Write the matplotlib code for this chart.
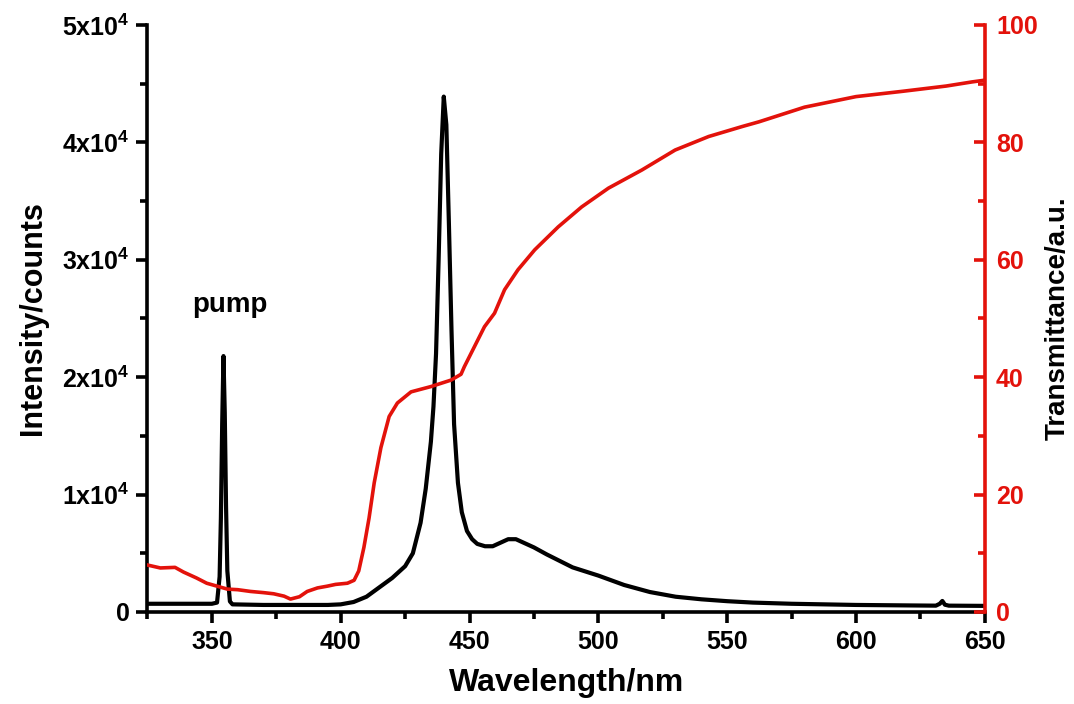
import matplotlib.pyplot as plt
import numpy as np
from matplotlib.ticker import MultipleLocator, FixedLocator

plt.rcParams['font.family'] = ['Liberation Sans', 'DejaVu Sans']
plt.rcParams['font.weight'] = 'bold'
plt.rcParams['mathtext.fontset'] = 'custom'
plt.rcParams['mathtext.rm'] = 'Liberation Sans:bold'
plt.rcParams['mathtext.bf'] = 'Liberation Sans:bold'

# emission spectrum (counts)
wl_int = [325, 340, 350, 352.0, 353.0, 353.5, 354.0, 354.5, 355.0, 355.5, 356.0, 357.0, 358,
          370, 385, 395, 400, 405, 410, 415, 420, 425, 428, 431, 433, 435, 436, 437, 438,
          439, 440, 441, 442, 443, 444, 445.5, 447, 449, 451, 453, 456, 459,
          462, 465, 468, 471, 475, 480, 490, 500, 510, 520, 530, 540, 550, 560, 575,
          590, 600, 620, 631, 632.5, 633.5, 634.5, 636, 650]
intensity = [700, 700, 700, 800, 3000, 8000, 16000, 21800, 17000, 9000, 3500, 900, 650,
             600, 600, 600, 650, 850, 1300, 2100, 2900, 3900, 5000, 7600, 10500, 14500,
             17500, 22000, 30000, 39000, 43900, 41500, 33000, 24000, 16000, 11000, 8500,
             6900, 6200, 5800, 5600, 5600, 5900, 6200, 6200, 5900, 5500, 4900, 3800, 3100,
             2300, 1700, 1300, 1080, 920, 800, 700, 640, 600, 560, 540, 700, 940, 620, 540,
             520]

# transmittance (a.u.)
wl_tr = [325, 330, 335.7, 339, 344, 348, 352, 356, 360, 365, 370, 374, 378, 380.5, 384,
         387, 391, 394.8, 398, 402.6, 405.2, 407, 409, 411, 413, 415.6, 418.8, 422,
         427.3, 435, 442.8, 446.7, 448, 451.9, 455.8, 459.7, 463.6, 468.8, 475.3, 484.4,
         493.5, 503.9, 516.9, 529.8, 542.8, 555.8, 562.3, 580, 600, 618, 635, 645, 650]
transmittance = [8.0, 7.5, 7.6, 6.8, 5.8, 4.9, 4.4, 3.9, 3.8, 3.5, 3.3, 3.1, 2.7, 2.2, 2.6,
                 3.5, 4.1, 4.4, 4.7, 4.9, 5.4, 7.0, 11.0, 16.0, 22.0, 28.0, 33.3, 35.6,
                 37.5, 38.4, 39.5, 40.5, 41.8, 45.2, 48.6, 50.9, 54.9, 58.3, 61.7, 65.6,
                 69.0, 72.2, 75.3, 78.7, 81.0, 82.7, 83.5, 86.0, 87.8, 88.7, 89.6, 90.3, 90.6]

red = '#e3120b'

fig = plt.figure(figsize=(10.74, 7.04), dpi=100)
ax = fig.add_axes([0.1373, 0.1307, 0.7797, 0.8338])
ax2 = ax.twinx()

ax.plot(wl_int, intensity, color='black', lw=3.0, zorder=3)
ax2.plot(wl_tr, transmittance, color=red, lw=2.6)

ax.set_xlim(325, 650)
ax.set_ylim(0, 50000)
ax2.set_ylim(0, 100)

ax.xaxis.set_major_locator(MultipleLocator(50))
ax.xaxis.set_minor_locator(MultipleLocator(25))
ax.yaxis.set_major_locator(FixedLocator([0, 10000, 20000, 30000, 40000, 50000]))
ax.yaxis.set_minor_locator(MultipleLocator(5000))
ax.set_yticklabels(['0'] + ['%dx10$^{%d}$' % (i, 4) for i in range(1, 6)])
ax2.yaxis.set_major_locator(MultipleLocator(20))
ax2.yaxis.set_minor_locator(MultipleLocator(10))

for a in (ax, ax2):
    a.spines['top'].set_visible(False)
    for s in a.spines.values():
        s.set_linewidth(2.6)
ax.spines['right'].set_visible(False)
ax2.spines['left'].set_visible(False)
ax2.spines['bottom'].set_visible(False)
ax2.spines['right'].set_color(red)

ax.tick_params(which='both', direction='out', width=2.6, labelsize=18, top=False, right=False)
ax.tick_params(which='major', length=8, pad=5)
ax.tick_params(which='minor', length=5)
ax2.tick_params(which='both', direction='in', width=2.6, color=red, labelcolor=red, labelsize=18)
ax2.tick_params(which='major', length=8, pad=8)
ax2.tick_params(which='minor', length=5)

ax.set_xlabel('Wavelength/nm', fontsize=23, fontweight='bold', labelpad=10)
ax.set_ylabel('Intensity/counts', fontsize=22, fontweight='bold', labelpad=10)
ax2.set_ylabel('Transmittance/a.u.', fontsize=20, fontweight='bold', labelpad=5)

ax.text(357, 25000, 'pump', fontsize=20, fontweight='bold', ha='center', va='bottom')

fig.savefig('out.png', dpi=100)
